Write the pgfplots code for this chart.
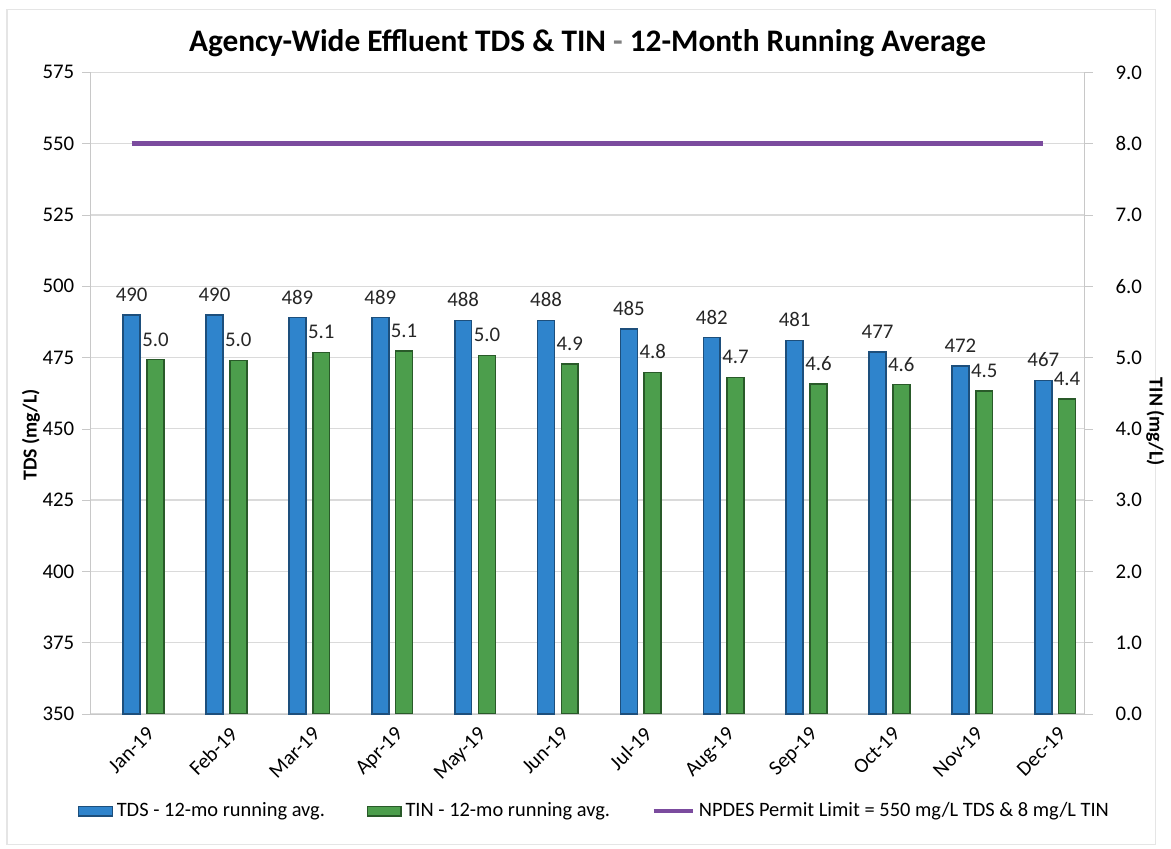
\documentclass[border=0pt]{standalone}
\usepackage{pgfplots}
\pgfplotsset{compat=1.18}
\usepackage{fontspec}
\setmainfont{Carlito}
\definecolor{blueF}{HTML}{2F84CC}
\definecolor{blueE}{HTML}{1D4F7C}
\definecolor{greenF}{HTML}{4C9E4C}
\definecolor{greenE}{HTML}{295A29}
\definecolor{purp}{HTML}{7B4B9E}
\definecolor{gridc}{HTML}{DADADA}
\definecolor{axc}{HTML}{C8C8C8}
\begin{document}
\begin{tikzpicture}
\pgfplotsset{
  every axis/.append style={/pgf/number format/assume math mode=true},
  baraxis/.style={
    scale only axis, width=501.5pt, height=323.5pt,
    xmin=-0.5, xmax=11.5,
    tick label style={font=\fontsize{10.5}{12}\selectfont},
  },
}
\begin{axis}[baraxis,
  ymin=350, ymax=575, ytick={350,375,...,575},
  xtick={0,...,11},
  xticklabels={Jan-19,Feb-19,Mar-19,Apr-19,May-19,Jun-19,Jul-19,Aug-19,Sep-19,Oct-19,Nov-19,Dec-19},
  x tick label style={rotate=45, anchor=north east, inner sep=1pt, xshift=2pt, yshift=-8pt},
  axis x line*=bottom, axis y line*=left,
  axis line style={axc,-},
  xtick style={draw=none},
  ytick style={axc}, ytick align=outside, major tick length=4pt,
  yticklabel style={xshift=-0.5pt},
  ymajorgrids, grid style={gridc, line width=0.6pt},
  ylabel={\bfseries TDS (mg/L)},
  ylabel style={at={(axis description cs:-0.0595,0.435)}, anchor=center, font=\fontsize{10}{12}\selectfont},
  title={\bfseries Agency-Wide Effluent TDS \& TIN {\color{gray}-} 12-Month Running Average},
  title style={at={(axis description cs:0.5,0.994)}, anchor=south, font=\fontsize{15.8}{19}\selectfont},
  legend columns=3,
  legend style={draw=none, fill=none, at={(axis description cs:0.508,-0.1515)}, anchor=center,
    font=\fontsize{10.3}{12}\selectfont, /tikz/every even column/.append style={column sep=19pt},
    inner sep=0pt},
  legend cell align=left,
  clip=false,
]
\path (axis description cs:-0.0907,-0.2102) rectangle (axis description cs:1.0768,1.1128);
\draw[black!10, line width=0.6pt] (axis description cs:-0.0837,-0.204) rectangle (axis description cs:1.0708,1.0974);
\addplot[ybar, bar width=8.5pt, bar shift=0pt, draw=blueE, line width=0.8pt, fill=blueF,
  nodes near coords, point meta=y,
  every node near coord/.append style={font=\fontsize{10.5}{12}\selectfont, text=black!85, yshift=3pt},
  legend image code/.code={\draw[draw=blueE, fill=blueF, line width=0.6pt] (0pt,-2.5pt) rectangle (17pt,2.5pt);},
  /pgf/number format/.cd, fixed, precision=0]
coordinates {(0,490) (1,490) (2,489) (3,489) (4,488) (5,488) (6,485) (7,482) (8,481) (9,477) (10,472) (11,467)};
\addlegendentry{TDS - 12-mo running avg.}
\addlegendimage{legend image code/.code={\draw[draw=greenE, fill=greenF, line width=0.6pt] (0pt,-2.5pt) rectangle (17pt,2.5pt);}}
\addlegendentry{TIN - 12-mo running avg.}
\addplot[purp, line width=2.6pt, mark=none,
  legend image code/.code={\draw[purp, line width=1.8pt] (0pt,0pt) -- (20pt,0pt);}]
coordinates {(0,550) (11,550)};
\addlegendentry{NPDES Permit Limit = 550 mg/L TDS \& 8 mg/L TIN}
\end{axis}
\begin{axis}[baraxis,
  ymin=0, ymax=9, ytick={0,1,...,9},
  axis x line=none, axis y line*=right,
  axis line style={axc,-},
  ytick style={axc}, ytick align=outside, major tick length=4pt,
  yticklabel style={/pgf/number format/.cd, fixed, fixed zerofill, precision=1, /tikz/.cd, xshift=8pt},
  ylabel={\bfseries TIN (mg/L)},
  ylabel style={at={(axis description cs:1.071,0.455)}, anchor=center, rotate=180, font=\fontsize{10}{12}\selectfont},
]
\addplot[ybar, bar width=8.5pt, bar shift=12pt, draw=greenE, line width=0.8pt, fill=greenF,
  nodes near coords, point meta=y,
  every node near coord/.append style={font=\fontsize{10.5}{12}\selectfont, text=black!85, yshift=3pt, xshift=12pt},
  /pgf/number format/.cd, fixed, fixed zerofill, precision=1]
coordinates {(0,4.97) (1,4.96) (2,5.07) (3,5.09) (4,5.03) (5,4.91) (6,4.79) (7,4.72) (8,4.63) (9,4.62) (10,4.53) (11,4.42)};
\end{axis}
\end{tikzpicture}
\end{document}
